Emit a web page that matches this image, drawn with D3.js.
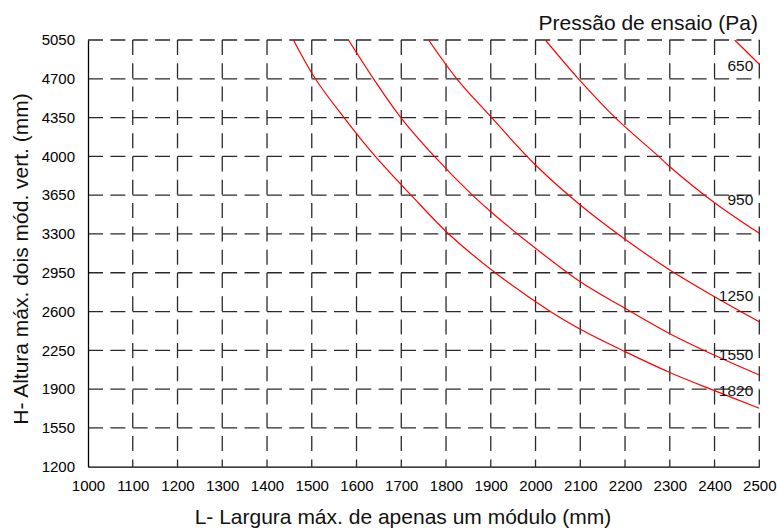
<!DOCTYPE html>
<html>
<head>
<meta charset="utf-8">
<script src="https://cdn.jsdelivr.net/npm/d3@7"></script>
<style>
  html, body { margin: 0; padding: 0; background: #fff; }
  svg { display: block; font-family: "Liberation Sans", Arial, sans-serif; }
</style>
</head>
<body>
<svg id="chart" width="777" height="528"></svg>
<script>
// ---- data ----
const xTicks = [1000, 1100, 1200, 1300, 1400, 1500, 1600, 1700, 1800, 1900, 2000, 2100, 2200, 2300, 2400, 2500];
const yTicks = [1200, 1550, 1900, 2250, 2600, 2950, 3300, 3650, 4000, 4350, 4700, 5050];
const pressures = ["650", "950", "1250", "1550", "1820"];
const curve650  = [[2445, 5050], [2500, 4831]];
const curve950  = [[2022, 5050], [2096, 4700], [2178, 4350], [2275, 4000], [2300, 3907], [2400, 3582], [2500, 3306]];
const curve1250 = [[1761, 5050], [1824, 4700], [1900, 4358], [2000, 3922], [2100, 3561], [2200, 3252], [2300, 2975], [2400, 2734], [2500, 2508]];
const curve1550 = [[1582, 5050], [1638, 4700], [1699, 4350], [1774, 4000], [1859, 3650], [1900, 3501], [2000, 3171], [2100, 2869], [2200, 2629], [2300, 2400], [2400, 2205], [2500, 2027]];
const curve1820 = [[1459, 5050], [1508, 4700], [1572, 4350], [1642, 4000], [1722, 3650], [1806, 3300], [1910, 2950], [2033, 2600], [2100, 2440], [2200, 2238], [2300, 2050], [2400, 1886], [2500, 1727]];
const curves = [curve650, curve950, curve1250, curve1550, curve1820];
const xTitle = "L- Largura máx. de apenas um módulo (mm)";
const yTitle = "H- Altura máx. dois mód. vert. (mm)";
const legendTitle = "Pressão de ensaio (Pa)";

// ---- layout ----
const svg = d3.select("#chart");
const pL = 88, pR = 759.3, pT = 40, pB = 466.7;
const x = d3.scaleLinear().domain([1000, 2500]).range([pL, pR]);
const y = d3.scaleLinear().domain([1200, 5050]).range([pB, pT]);

svg.append("defs").append("clipPath").attr("id", "clip")
  .append("rect").attr("x", pL).attr("y", pT)
  .attr("width", pR - pL).attr("height", pB - pT);

// grid
const grid = svg.append("g");
grid.selectAll("line.h").data(yTicks.filter(d => d !== 1200)).enter().append("line")
  .attr("x1", pL).attr("x2", pR)
  .attr("y1", d => y(d)).attr("y2", d => y(d))
  .attr("stroke", "#2a2a2a").attr("stroke-width", 1.3)
  .attr("stroke-dasharray", "15,7.36");
grid.selectAll("line.v").data(xTicks.filter(d => d !== 1000)).enter().append("line")
  .attr("x1", d => x(d)).attr("x2", d => x(d))
  .attr("y1", pT).attr("y2", pB)
  .attr("stroke", "#2a2a2a").attr("stroke-width", 1.3)
  .attr("stroke-dasharray", "15,8.3");

// axes (solid left & bottom)
const xAxis = svg.append("g").attr("transform", `translate(0,${pB})`)
  .call(d3.axisBottom(x).tickValues(xTicks).tickFormat(d3.format("d")).tickSize(0).tickPadding(14));
const yAxis = svg.append("g").attr("transform", `translate(${pL},0)`)
  .call(d3.axisLeft(y).tickValues(yTicks).tickFormat(d3.format("d")).tickSize(0).tickPadding(13));
[xAxis, yAxis].forEach(a => {
  a.select(".domain").attr("stroke", "#000").attr("stroke-width", 1.3);
  a.selectAll("text").attr("fill", "#000").style("font-size", "15px")
    .style("font-family", "'Liberation Sans', Arial, sans-serif");
});

// curves
const line = d3.line().x(d => x(d[0])).y(d => y(d[1])).curve(d3.curveCatmullRom.alpha(0.5));
svg.append("g").attr("clip-path", "url(#clip)")
  .selectAll("path").data(curves).enter().append("path")
  .attr("d", line).attr("fill", "none")
  .attr("stroke", "#ff0000").attr("stroke-width", 1.2);

// curve labels (anchored in data units at the right edge)
const labelAnchor = [4770, 3561, 2698, 2163, 1838];
svg.append("g").selectAll("text").data(pressures).enter().append("text")
  .attr("x", x(2500) - 6).attr("y", (d, i) => y(labelAnchor[i]))
  .attr("text-anchor", "end").attr("fill", "#111")
  .style("font-size", "15.5px").text(d => d);

// titles
svg.append("text").attr("x", 758).attr("y", 30).attr("text-anchor", "end")
  .style("font-size", "21px").attr("fill", "#111").text(legendTitle);
svg.append("text").attr("x", 403).attr("y", 524).attr("text-anchor", "middle")
  .style("font-size", "21px").attr("fill", "#111").text(xTitle);
svg.append("text").attr("transform", "translate(28,259) rotate(-90)")
  .attr("text-anchor", "middle")
  .style("font-size", "21px").attr("fill", "#111").text(yTitle);
</script>
</body>
</html>
